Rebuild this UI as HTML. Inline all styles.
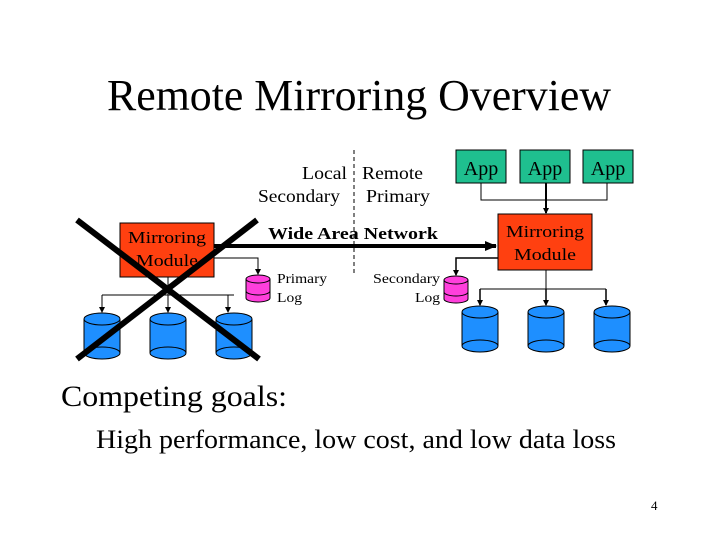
<!DOCTYPE html>
<html><head><style>html,body{margin:0;padding:0;background:#fff}svg{display:block}</style></head><body>
<svg width="720" height="540" viewBox="0 0 720 540" xmlns="http://www.w3.org/2000/svg" font-family="Liberation Serif, serif">
<defs>
<marker id="a" markerWidth="6" markerHeight="6" refX="5" refY="3" orient="auto" markerUnits="userSpaceOnUse"><path d="M0,0 L6,3 L0,6 z" fill="#000"/></marker>
<marker id="b" markerWidth="12" markerHeight="10" refX="11" refY="5" orient="auto" markerUnits="userSpaceOnUse"><path d="M0,0 L12,5 L0,10 z" fill="#000"/></marker>
<g id="disk"><path d="M-18,6 L-18,40 A18,6 0 0 0 18,40 L18,6" fill="#1e8fff" stroke="#000"/><ellipse cx="0" cy="6" rx="18" ry="6" fill="#1e8fff" stroke="#000"/><path d="M-18,40 A18,6 0 0 1 18,40" fill="none" stroke="#000"/></g>
<g id="log"><path d="M-12,4 L-12,23 A12,4 0 0 0 12,23 L12,4" fill="#ff3fdc" stroke="#000"/><ellipse cx="0" cy="4" rx="12" ry="4" fill="#ff3fdc" stroke="#000"/><path d="M-12,16 A12,4 0 0 0 12,16" fill="none" stroke="#000"/></g>
</defs>
<text x="107" y="110" font-size="44" textLength="504" lengthAdjust="spacingAndGlyphs">Remote Mirroring Overview</text>
<line x1="354" y1="150" x2="354" y2="275" stroke="#000" stroke-dasharray="4,3"/>
<text x="302" y="179" font-size="18" textLength="45" lengthAdjust="spacingAndGlyphs">Local</text>
<text x="362" y="179" font-size="18" textLength="61" lengthAdjust="spacingAndGlyphs">Remote</text>
<text x="258" y="202" font-size="18" textLength="82" lengthAdjust="spacingAndGlyphs">Secondary</text>
<text x="366" y="202" font-size="18" textLength="64" lengthAdjust="spacingAndGlyphs">Primary</text>
<text x="268" y="239" font-size="17" font-weight="bold" textLength="170" lengthAdjust="spacingAndGlyphs">Wide Area Network</text>
<line x1="214" y1="246" x2="496" y2="246" stroke="#000" stroke-width="4" marker-end="url(#b)"/>
<!-- left -->
<rect x="120" y="223" width="94" height="54" fill="#ff4010" stroke="#000"/>
<text x="128" y="243" font-size="17" textLength="78" lengthAdjust="spacingAndGlyphs">Mirroring</text>
<text x="136" y="266" font-size="17" textLength="62" lengthAdjust="spacingAndGlyphs">Module</text>
<polyline points="214,258 258,258 258,274" fill="none" stroke="#000" marker-end="url(#a)"/>
<use href="#log" x="258" y="275"/>
<text x="277" y="283" font-size="14" textLength="50" lengthAdjust="spacingAndGlyphs">Primary</text>
<text x="277" y="302" font-size="14" textLength="25" lengthAdjust="spacingAndGlyphs">Log</text>
<line x1="168" y1="277" x2="168" y2="295" stroke="#000"/>
<line x1="102" y1="295" x2="234" y2="295" stroke="#000"/>
<line x1="102" y1="295" x2="102" y2="312" stroke="#000" marker-end="url(#a)"/>
<line x1="168" y1="295" x2="168" y2="312" stroke="#000" marker-end="url(#a)"/>
<line x1="228" y1="295" x2="228" y2="312" stroke="#000" marker-end="url(#a)"/>
<use href="#disk" x="102" y="313"/><use href="#disk" x="168" y="313"/><use href="#disk" x="234" y="313"/>
<line x1="77" y1="220" x2="259" y2="359" stroke="#000" stroke-width="6"/>
<line x1="257" y1="220" x2="77" y2="359" stroke="#000" stroke-width="6"/>
<!-- right -->
<g font-size="20" text-anchor="middle">
<rect x="456" y="150" width="50" height="33" fill="#1fbf8f" stroke="#000"/><text x="481" y="175">App</text>
<rect x="520" y="150" width="50" height="33" fill="#1fbf8f" stroke="#000"/><text x="545" y="175">App</text>
<rect x="583" y="150" width="50" height="33" fill="#1fbf8f" stroke="#000"/><text x="608" y="175">App</text>
</g>
<polyline points="481,183 481,200 607,200 607,183" fill="none" stroke="#000"/>
<line x1="546" y1="183" x2="546" y2="213" stroke="#000" stroke-width="2" marker-end="url(#a)"/>
<rect x="498" y="214" width="94" height="56" fill="#ff4010" stroke="#000"/>
<text x="506" y="237" font-size="17" textLength="78" lengthAdjust="spacingAndGlyphs">Mirroring</text>
<text x="514" y="260" font-size="17" textLength="62" lengthAdjust="spacingAndGlyphs">Module</text>
<polyline points="498,258 456,258 456,275" fill="none" stroke="#000" stroke-width="1.5" marker-end="url(#a)"/>
<use href="#log" x="456" y="276"/>
<text x="373" y="283" font-size="14" textLength="67" lengthAdjust="spacingAndGlyphs">Secondary</text>
<text x="415" y="302" font-size="14" textLength="25" lengthAdjust="spacingAndGlyphs">Log</text>
<line x1="546" y1="270" x2="546" y2="289" stroke="#000"/>
<line x1="480" y1="289" x2="606" y2="289" stroke="#000"/>
<line x1="480" y1="289" x2="480" y2="305" stroke="#000" stroke-width="1.5" marker-end="url(#a)"/>
<line x1="546" y1="289" x2="546" y2="305" stroke="#000" stroke-width="1.5" marker-end="url(#a)"/>
<line x1="606" y1="289" x2="606" y2="305" stroke="#000" stroke-width="1.5" marker-end="url(#a)"/>
<use href="#disk" x="480" y="306"/><use href="#disk" x="546" y="306"/><use href="#disk" x="612" y="306"/>
<text x="61" y="406" font-size="30" textLength="226" lengthAdjust="spacingAndGlyphs">Competing goals:</text>
<text x="96" y="448" font-size="26" textLength="520" lengthAdjust="spacingAndGlyphs">High performance, low cost, and low data loss</text>
<text x="651" y="510" font-size="13">4</text>
</svg>
</body></html>
